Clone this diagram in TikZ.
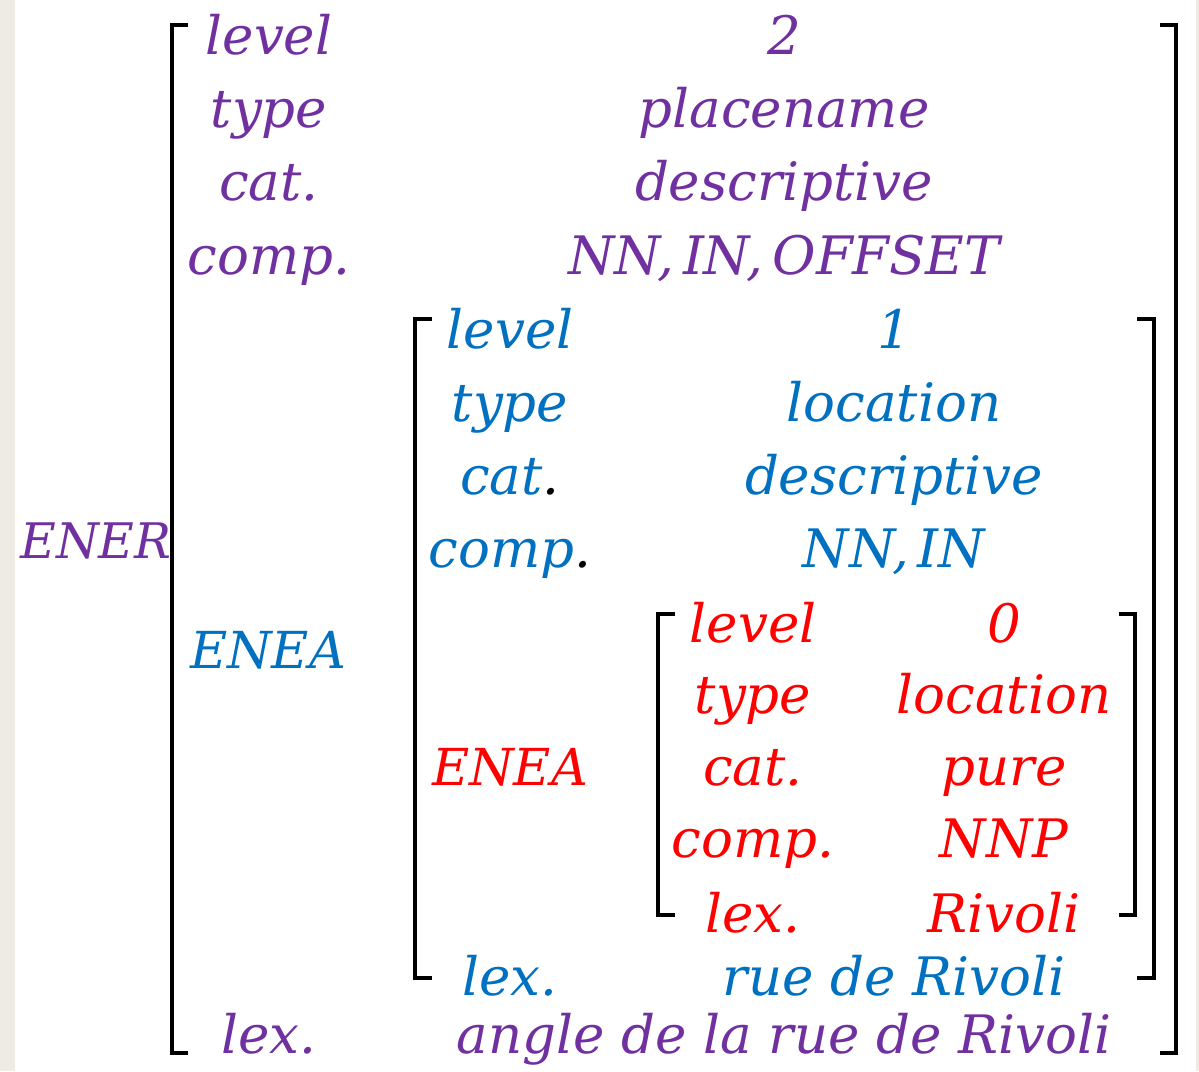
\documentclass[tikz,border=0pt]{standalone}
\usepackage{fontspec}
\setmainfont{DejaVu Serif}
\definecolor{pur}{HTML}{7030A0}
\definecolor{blu}{HTML}{0070C0}
\definecolor{rd}{HTML}{FF0000}
\definecolor{beige}{HTML}{EEEBE4}
\begin{document}
\begin{tikzpicture}[x=1pt,y=-1pt,
  txt/.style={anchor=base, inner sep=0pt, font=\fontsize{53}{60}\selectfont\itshape},
  brk/.style={line width=4pt, black}]
\useasboundingbox (0,0) rectangle (1199,1071);
\fill[white] (0,0) rectangle (1199,1071);
\fill[beige] (0,0) rectangle (15,1071);
\fill[beige] (1196,0) rectangle (1199,1071);
% outer brackets
\draw[brk] (188,25) -- (172,25) -- (172,1053) -- (188,1053);
\draw[brk] (1160,25) -- (1176,25) -- (1176,1053) -- (1160,1053);
% middle brackets
\draw[brk] (432,319) -- (415,319) -- (415,978) -- (432,978);
\draw[brk] (1137,319) -- (1154,319) -- (1154,978) -- (1137,978);
% inner brackets
\draw[brk] (675,614) -- (658,614) -- (658,915) -- (675,915);
\draw[brk] (1119,614) -- (1135,614) -- (1135,915) -- (1119,915);
% outer
\node[txt, pur, font=\fontsize{49}{60}\selectfont\itshape] (ener) at (96,558) {ENER};
\node[txt, pur] (olevel) at (269,54) {level};
\node[txt, pur] (otype) at (269,127) {type};
\node[txt, pur] (ocat) at (269,200) {cat.};
\node[txt, pur] (ocomp) at (269,274) {comp.};
\node[txt, blu, font=\fontsize{51}{60}\selectfont\itshape] (oenea) at (268,668) {ENEA};
\node[txt, pur] (olex) at (269,1053) {lex.};
\node[txt, pur] (ovlevel) at (784,54) {2};
\node[txt, pur] (ovtype) at (784,127) {placename};
\node[txt, pur] (ovcat) at (784,200) {descriptive};
\node[txt, pur] (ovcomp) at (784,274) {NN,\,IN,\,OFFSET};
\node[txt, pur] (ovlex) at (784,1053) {angle de la rue de Rivoli};
% middle
\node[txt, blu] (mlevel) at (510,348) {level};
\node[txt, blu] (mtype) at (510,421) {type};
\node[txt, blu] (mcat) at (510,494) {cat\textcolor{black}{.}};
\node[txt, blu] (mcomp) at (510,567) {comp\textcolor{black}{.}};
\node[txt, rd, font=\fontsize{51}{60}\selectfont\itshape] (menea) at (510,785) {ENEA};
\node[txt, blu] (mlex) at (510,995) {lex.};
\node[txt, blu] (mvlevel) at (894,348) {1};
\node[txt, blu] (mvtype) at (894,421) {location};
\node[txt, blu] (mvcat) at (894,494) {descriptive};
\node[txt, blu] (mvcomp) at (894,567) {NN,\,IN};
\node[txt, blu] (mvlex) at (894,995) {rue de Rivoli};
% inner
\node[txt, rd] (ilevel) at (753,642) {level};
\node[txt, rd] (itype) at (753,713) {type};
\node[txt, rd] (icat) at (753,785) {cat.};
\node[txt, rd] (icomp) at (753,857) {comp.};
\node[txt, rd] (ilex) at (753,932) {lex.};
\node[txt, rd] (ivlevel) at (1004,642) {0};
\node[txt, rd] (ivtype) at (1004,713) {location};
\node[txt, rd] (ivcat) at (1004,785) {pure};
\node[txt, rd] (ivcomp) at (1004,857) {NNP};
\node[txt, rd] (ivlex) at (1004,932) {Rivoli};
\end{tikzpicture}
\end{document}
